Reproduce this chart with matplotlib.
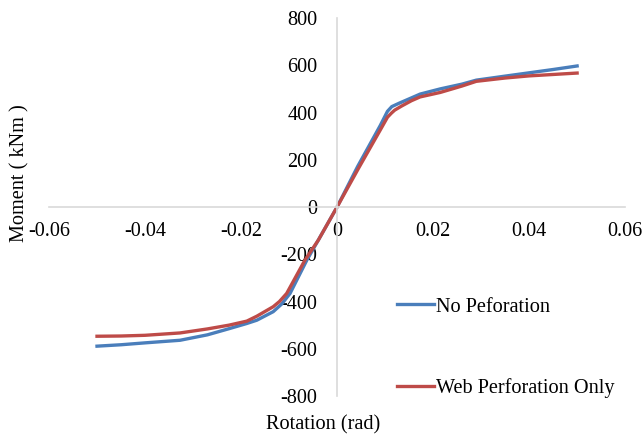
import numpy as np
import matplotlib
matplotlib.use("Agg")
from matplotlib import pyplot as plt

# rotation (rad) and moment (kNm)
rot_no_perf = [-0.050, -0.045, -0.040, -0.0327, -0.027, -0.0225, -0.0188, -0.0167, -0.0133,
               -0.0115, -0.0098, -0.0063, -0.0039, 0.0,
               0.0043, 0.009, 0.0105, 0.0114, 0.013, 0.0155, 0.0173, 0.0215, 0.026,
               0.029, 0.035, 0.040, 0.045, 0.050]
mom_no_perf = [-589, -583, -575, -564, -541, -515, -493, -479, -443,
               -410, -366, -225, -140, 0,
               172, 345, 405, 425, 440, 462, 478, 500, 520,
               537, 554, 568, 582, 597]

rot_web_perf = [-0.050, -0.045, -0.040, -0.0327, -0.027, -0.0225, -0.0188, -0.0167, -0.0133,
                -0.012, -0.0105, -0.0067, -0.0039, 0.0,
                0.0045, 0.009, 0.0105, 0.0113, 0.012, 0.0135, 0.0155, 0.0173, 0.0215, 0.026,
                0.029, 0.035, 0.040, 0.045, 0.050]
mom_web_perf = [-547, -546, -543, -533, -516, -500, -483, -462, -422,
                -400, -366, -225, -140, 0,
                165, 326, 380, 397, 410, 428, 450, 466, 485, 512,
                532, 546, 555, 561, 567]

labels = ["No Peforation", "Web Perforation Only"]
x_ticks = [-0.06, -0.04, -0.02, 0, 0.02, 0.04, 0.06]
y_ticks = [-800, -600, -400, -200, 0, 200, 400, 600, 800]

plt.rcParams['font.family'] = ['Liberation Serif', 'DejaVu Serif']
plt.rcParams['font.size'] = 14.6

fig = plt.figure(figsize=(6.43, 4.36), dpi=100)
ax = fig.add_axes([0.0762, 0.0917, 0.896, 0.867])

ax.plot(rot_no_perf, mom_no_perf, color='#4a7ebb', lw=2.4, label=labels[0],
        solid_joinstyle='round')
ax.plot(rot_web_perf, mom_web_perf, color='#be4b48', lw=2.4, label=labels[1],
        solid_joinstyle='round')

ax.set_xlim(-0.06, 0.06)
ax.set_ylim(-800, 800)
ax.set_xticks(x_ticks)
ax.set_yticks(y_ticks)
ax.set_xticklabels(['0' if t == 0 else f'{t:g}' for t in x_ticks])
ax.set_yticklabels([str(t) for t in y_ticks])

for side in ['top', 'right']:
    ax.spines[side].set_visible(False)
ax.spines['left'].set_position(('data', 0))
ax.spines['bottom'].set_position(('data', 0))
for side in ['left', 'bottom']:
    ax.spines[side].set_color('#d9d9d9')
    ax.spines[side].set_linewidth(1.2)
ax.tick_params(axis='y', length=0, pad=14)
ax.tick_params(axis='x', length=0, pad=11)

fig.text(0.031, 0.603, 'Moment ( kNm )', rotation=90, ha='center', va='center')
fig.text(0.502, 0.025, 'Rotation (rad)', ha='center', va='center')

ax.legend(loc='upper left', bbox_to_anchor=(0.6175, 0.318), bbox_transform=fig.transFigure,
          frameon=False, handlelength=1.8, handletextpad=0.1, labelspacing=3.05,
          borderaxespad=0, borderpad=0)

fig.savefig('out.png', dpi=100)
